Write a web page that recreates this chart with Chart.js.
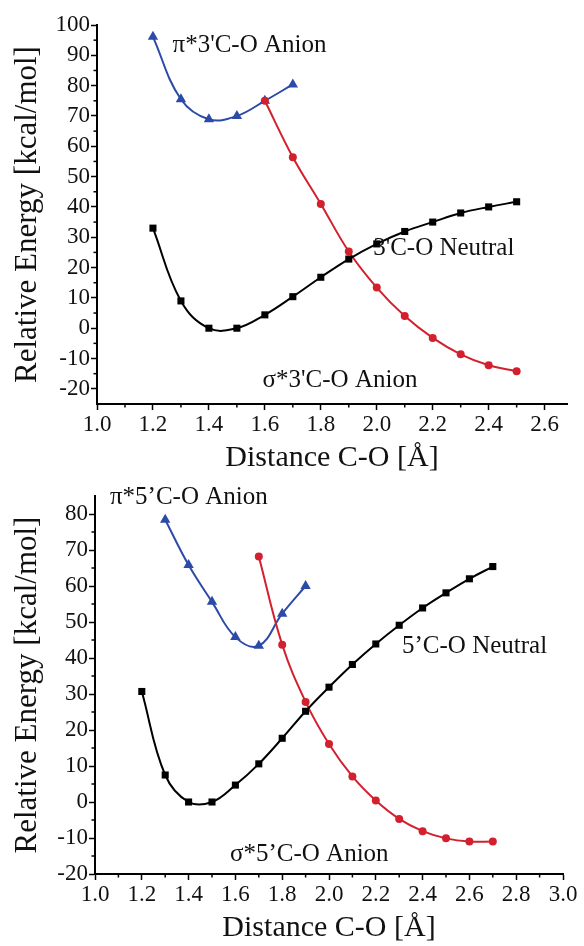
<!DOCTYPE html>
<html>
<head>
<meta charset="utf-8">
<script src="https://cdn.jsdelivr.net/npm/chart.js@4/dist/chart.umd.min.js"></script>
<style>
  html, body { margin: 0; padding: 0; background: #fff; }
  #wrap { width: 584px; height: 946px; }
  canvas { display: block; }
</style>
</head>
<body>
<div id="wrap">
  <canvas id="topChart" width="584" height="476"></canvas>
  <canvas id="bottomChart" width="584" height="470"></canvas>
</div>
<script>
// ---- top panel: 3'C-O bond ----
var distNeutral3 = [1.2, 1.3, 1.4, 1.5, 1.6, 1.7, 1.8, 1.9, 2.0, 2.1, 2.2, 2.3, 2.4, 2.5];
var eNeutral3    = [33, 9, 0, 0, 4.4, 10.4, 16.8, 22.8, 27.8, 31.9, 35, 38, 40, 41.7];
var distSigma3   = [1.6, 1.7, 1.8, 1.9, 2.0, 2.1, 2.2, 2.3, 2.4, 2.5];
var eSigma3      = [75, 56.4, 41, 25.3, 13.4, 4, -3.2, -8.6, -12.2, -14.2];
var distPi3      = [1.2, 1.3, 1.4, 1.5, 1.6, 1.7];
var ePi3         = [96.1, 75.5, 68.9, 70, 75, 80.4];

// ---- bottom panel: 5'C-O bond ----
var distNeutral5 = [1.2, 1.3, 1.4, 1.5, 1.6, 1.7, 1.8, 1.9, 2.0, 2.1, 2.2, 2.3, 2.4, 2.5, 2.6, 2.7];
var eNeutral5    = [30.7, 7.5, 0, 0, 4.7, 10.6, 17.7, 25.2, 31.9, 38.2, 43.9, 49.1, 53.9, 58.1, 62, 65.4];
var distSigma5   = [1.7, 1.8, 1.9, 2.0, 2.1, 2.2, 2.3, 2.4, 2.5, 2.6, 2.7];
var eSigma5      = [68.2, 43.7, 27.8, 16.1, 7.1, 0.4, -4.7, -8.1, -10.1, -11, -11];
var distPi5      = [1.3, 1.4, 1.5, 1.6, 1.7, 1.8, 1.9];
var ePi5         = [78.4, 65.8, 55.6, 45.8, 43.4, 52.3, 60];

// tick labels
var xTicksTop    = [1.0, 1.2, 1.4, 1.6, 1.8, 2.0, 2.2, 2.4, 2.6];
var yTicksTop    = [-20, -10, 0, 10, 20, 30, 40, 50, 60, 70, 80, 90, 100];
var xTicksBottom = [1.0, 1.2, 1.4, 1.6, 1.8, 2.0, 2.2, 2.4, 2.6, 2.8, 3.0];
var yTicksBottom = [-20, -10, 0, 10, 20, 30, 40, 50, 60, 70, 80];

var BLACK = '#000000';
var RED = '#d2202e';
var BLUE = '#2c4aa8';
var SERIF = '"Liberation Serif", "Times New Roman", serif';

function pairs(xs, ys) {
    return xs.map(function (x, i) { return { x: x, y: ys[i] }; });
}

function series(xs, ys, color, style, radius) {
    return {
        data: pairs(xs, ys),
        borderColor: color,
        backgroundColor: color,
        borderWidth: 2,
        tension: 0.4,
        pointStyle: style,
        pointRadius: radius,
        pointBorderWidth: 0,
        clip: false
    };
}

// short ticks halfway between the labelled ones, plus the curve labels
var extrasPlugin = {
    id: 'extras',
    afterDraw: function (chart, args, opts) {
        var ctx = chart.ctx;
        var xs = chart.scales.x, ys = chart.scales.y;
        ctx.save();
        ctx.strokeStyle = BLACK;
        ctx.lineWidth = 1.5;
        var xv = opts.xTicks, yv = opts.yTicks;
        for (var i = 0; i < xv.length - 1; i++) {
            var px = xs.getPixelForValue((xv[i] + xv[i + 1]) / 2);
            ctx.beginPath();
            ctx.moveTo(px, xs.top);
            ctx.lineTo(px, xs.top + 3.5);
            ctx.stroke();
        }
        for (var j = 0; j < yv.length - 1; j++) {
            var py = ys.getPixelForValue((yv[j] + yv[j + 1]) / 2);
            ctx.beginPath();
            ctx.moveTo(ys.right, py);
            ctx.lineTo(ys.right - 3.5, py);
            ctx.stroke();
        }
        ctx.fillStyle = '#111';
        ctx.font = '25px ' + SERIF;
        ctx.textAlign = 'left';
        ctx.textBaseline = 'middle';
        opts.labels.forEach(function (l) {
            ctx.fillText(l.text, xs.getPixelForValue(l.x), ys.getPixelForValue(l.y));
        });
        ctx.restore();
    }
};

function makeChart(id, p) {
    var ctx = document.getElementById(id).getContext('2d');
    new Chart(ctx, {
        type: 'line',
        data: { datasets: p.datasets },
        plugins: [extrasPlugin],
        options: {
            responsive: false,
            animation: false,
            layout: { padding: { top: p.padTop, right: p.padRight, left: 0, bottom: 0 } },
            plugins: {
                legend: { display: false },
                tooltip: { enabled: false },
                extras: { xTicks: p.xTicks, yTicks: p.yTicks, labels: p.labels }
            },
            scales: {
                x: {
                    type: 'linear',
                    min: p.xMin,
                    max: p.xMax,
                    afterBuildTicks: function (scale) {
                        scale.ticks = p.xTicks.map(function (v) { return { value: v }; });
                    },
                    afterFit: function (scale) { scale.height = p.xHeight; },
                    ticks: {
                        color: '#111',
                        padding: 1,
                        maxRotation: 0,
                        font: { family: SERIF, size: 23 },
                        callback: function (v) { return Number(v).toFixed(1); }
                    },
                    grid: { drawOnChartArea: false, drawTicks: true, tickLength: 6, tickWidth: 1.5, tickColor: BLACK },
                    border: { color: BLACK, width: 2 },
                    title: {
                        display: true,
                        text: 'Distance C-O [Å]',
                        color: '#111',
                        padding: { top: 0, bottom: 0 },
                        font: { family: SERIF, size: 30, lineHeight: 1.2 }
                    }
                },
                y: {
                    min: p.yMin,
                    max: p.yMax,
                    afterBuildTicks: function (scale) {
                        scale.ticks = p.yTicks.map(function (v) { return { value: v }; });
                    },
                    afterFit: function (scale) { scale.width = p.yWidth; },
                    ticks: {
                        color: '#111',
                        padding: 1,
                        font: { family: SERIF, size: 23 },
                        callback: function (v) { return String(v); }
                    },
                    grid: { drawOnChartArea: false, drawTicks: true, tickLength: 6, tickWidth: 1.5, tickColor: BLACK },
                    border: { color: BLACK, width: 2 },
                    title: {
                        display: true,
                        text: 'Relative Energy [kcal/mol]',
                        color: '#111',
                        padding: { top: 9, bottom: 0 },
                        font: { family: SERIF, size: 31, lineHeight: 1.2 }
                    }
                }
            }
        }
    });
}

makeChart('topChart', {
    datasets: [
        series(distNeutral3, eNeutral3, BLACK, 'rect', 5),
        series(distSigma3, eSigma3, RED, 'circle', 4),
        series(distPi3, ePi3, BLUE, 'triangle', 6)
    ],
    xMin: 1.0, xMax: 2.68, yMin: -25, yMax: 100,
    xTicks: xTicksTop, yTicks: yTicksTop,
    padTop: 25, padRight: 17, yWidth: 97, xHeight: 72,
    labels: [
        { text: "\u03c0*3'C-O Anion", x: 1.27, y: 93.4 },
        { text: "3'C-O Neutral", x: 1.987, y: 26.4 },
        { text: "\u03c3*3'C-O Anion", x: 1.592, y: -17.2 }
    ]
});

makeChart('bottomChart', {
    datasets: [
        series(distNeutral5, eNeutral5, BLACK, 'rect', 5),
        series(distSigma5, eSigma5, RED, 'circle', 4),
        series(distPi5, ePi5, BLUE, 'triangle', 6)
    ],
    xMin: 1.0, xMax: 3.0, yMin: -20, yMax: 85,
    xTicks: xTicksBottom, yTicks: yTicksBottom,
    padTop: 20, padRight: 21, yWidth: 95, xHeight: 72,
    labels: [
        { text: "\u03c0*5\u2019C-O Anion", x: 1.064, y: 84.7 },
        { text: "5\u2019C-O Neutral", x: 2.312, y: 43.2 },
        { text: "\u03c3*5\u2019C-O Anion", x: 1.577, y: -14.5 }
    ]
});
</script>
</body>
</html>
